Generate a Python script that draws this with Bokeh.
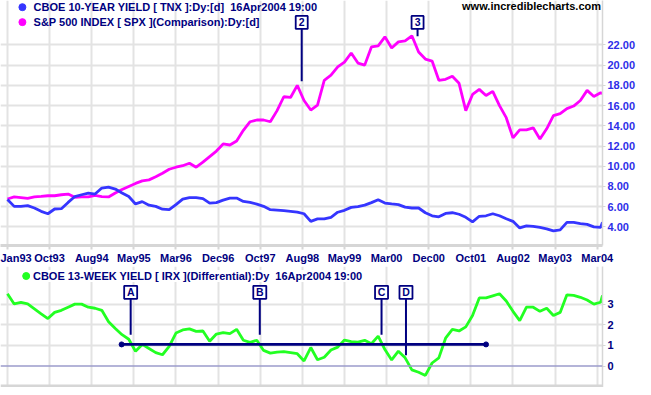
import numpy as np
from bokeh.plotting import figure
from bokeh.layouts import column
from bokeh.models import Range1d, FixedTicker, Span, Label, NumeralTickFormatter, ColumnDataSource
from bokeh.core.properties import value
from bokeh.embed import file_html
from bokeh.resources import INLINE

# ---------------- data ----------------
x_tick_labels = ["Jan93", "Oct93", "Aug94", "May95", "Mar96", "Dec96", "Oct97", "Aug98",
                 "May99", "Mar00", "Dec00", "Oct01", "Aug02", "May03", "Mar04"]
x_tick_days = [0, 200, 400, 600, 800, 1000, 1200, 1400, 1600, 1800, 2000, 2200, 2400, 2600, 2800]
top_ticks = [4, 6, 8, 10, 12, 14, 16, 18, 20, 22]
bottom_ticks = [0, 1, 2, 3]

# trading-day index of each sample (one sample every 32 trading days, last = 16Apr2004)
days = list(np.arange(0, 2817, 32)) + [2825]

tnx = [6.7, 6.03, 6.03, 6.1, 5.87, 5.54, 5.3, 5.77, 5.8, 6.42,
       7.0, 7.18, 7.35, 7.25, 7.84, 7.94, 7.74, 7.35, 7.0, 6.27,
       6.5, 6.15, 6.03, 5.75, 5.7, 6.2, 6.75, 6.9, 6.9, 6.8,
       6.35, 6.4, 6.65, 6.85, 6.85, 6.52, 6.42, 6.25, 6.03, 5.7,
       5.66, 5.6, 5.54, 5.47, 5.3, 4.55, 4.79, 4.79, 4.95, 5.45,
       5.64, 5.93, 6.0, 6.15, 6.4, 6.69, 6.36, 6.27, 6.2, 5.95,
       5.87, 5.87, 5.4, 5.1, 5.0, 5.33, 5.4, 5.25, 4.95, 4.5,
       5.05, 5.1, 5.3, 5.1, 4.8, 4.55, 3.9, 4.1, 4.05, 3.95,
       3.8, 3.6, 3.7, 4.45, 4.45, 4.33, 4.25, 4.0, 3.95, 4.45]

spx = [6.76, 6.96, 6.9, 6.82, 6.96, 7.01, 7.08, 7.08, 7.18, 7.25,
       6.92, 6.96, 6.96, 7.11, 7.0, 6.96, 7.35, 7.7, 8.0, 8.3,
       8.55, 8.65, 8.95, 9.3, 9.7, 9.9, 10.05, 10.3, 9.9, 10.4,
       10.95, 11.5, 12.2, 12.1, 12.5, 13.55, 14.4, 14.57, 14.57, 14.4,
       15.5, 16.87, 16.8, 18.0, 16.5, 15.56, 16.05, 18.5, 19.0, 19.82,
       20.3, 21.2, 20.2, 20.0, 21.8, 21.9, 22.8, 21.7, 22.3, 22.4,
       22.9, 21.3, 20.6, 20.4, 18.5, 18.6, 18.9, 18.2, 15.5, 17.1,
       17.6, 17.0, 17.4, 16.0, 14.8, 12.8, 13.6, 13.6, 13.8, 12.7,
       13.7, 15.0, 15.2, 15.7, 15.95, 16.5, 17.5, 16.9, 17.26, 17.2]

irx = [3.5, 3.01, 3.08, 3.01, 2.77, 2.53, 2.3, 2.6, 2.7, 2.85,
       3.0, 3.0, 2.85, 2.8, 2.7, 2.15, 1.82, 1.52, 1.3, 0.72,
       1.05, 0.85, 0.65, 0.55, 0.95, 1.6, 1.75, 1.8, 1.68, 1.7,
       1.2, 1.55, 1.62, 1.57, 1.78, 1.25, 1.15, 1.25, 0.76, 0.63,
       0.68, 0.7, 0.65, 0.6, 0.25, 0.9, 0.31, 0.43, 0.78, 0.92,
       1.26, 1.18, 1.16, 1.25, 1.08, 1.45, 0.8, 0.3, 0.72, 0.4,
       -0.18, -0.3, -0.45, 0.15, 0.4, 1.35, 1.78, 1.7, 1.9, 2.45,
       3.3, 3.3, 3.4, 3.5, 3.15, 2.65, 2.2, 2.85, 2.85, 2.65,
       2.8, 2.45, 2.6, 3.45, 3.42, 3.33, 3.2, 3.0, 3.09, 3.42]

# annotation markers
top_marks = ["2", "3"]
top_mark_days = [1397, 1947]
top_mark_end = [18.41, 22.85]
top_box_level = 24.22
top_box_bottom = 23.58

bot_marks = ["A", "B", "C", "D"]
bot_mark_days = [585, 1198, 1776, 1892]
bot_mark_end = [1.52, 1.52, 1.52, 0.52]
bot_box_level = 3.57
bot_box_bottom = 3.25
support_days = [542, 2272]
support_level = [1.05, 1.05]

# ---------------- styles ----------------
NAVY = "#000080"
GRID = "#E3E3E3"
AXIS = "#D6D6D6"
FONT = "Liberation Sans"
SP2 = "\u00a0 "  # keeps the double space of the original legends

x_range = Range1d(-33, 2825)


def style_frame(p):
    p.outline_line_color = None
    p.background_fill_color = "white"
    p.border_fill_color = "white"
    p.xgrid.ticker = FixedTicker(ticks=x_tick_days)
    p.xgrid.grid_line_color = GRID
    p.xgrid.grid_line_width = 2
    p.ygrid.grid_line_color = GRID
    p.ygrid.grid_line_width = 2
    ya = p.yaxis[0]
    ya.axis_line_color = AXIS
    ya.axis_line_width = 1.5
    ya.major_tick_line_color = AXIS
    ya.major_tick_in = 0
    ya.major_tick_out = 3
    ya.minor_tick_line_color = None
    ya.major_label_text_font = FONT
    ya.major_label_text_font_style = "bold"
    ya.major_label_text_font_size = "11px"
    ya.major_label_standoff = 2


def legend_label(x, y, text, **kw):
    return Label(x=x, y=y, text=text, text_font=FONT, text_font_style="bold",
                 text_font_size="11px", text_color=NAVY, text_baseline="middle", **kw)


# ---------------- top panel ----------------
p1 = figure(width=643, height=266, output_backend="svg", toolbar_location=None,
            x_range=x_range, y_range=Range1d(2.16, 26.39), y_axis_location="right",
            min_border_left=0, min_border_top=0, min_border_right=41, min_border_bottom=20)
style_frame(p1)
xa = p1.xaxis[0]
xa.ticker = FixedTicker(ticks=x_tick_days)
xa.major_label_overrides = {d: l for d, l in zip(x_tick_days, x_tick_labels)}
xa.axis_line_color = AXIS
xa.axis_line_width = 3
xa.major_tick_line_color = AXIS
xa.major_tick_line_width = 2
xa.major_tick_in = 0
xa.major_tick_out = 4
xa.minor_tick_line_color = None
xa.major_label_text_font = FONT
xa.major_label_text_font_style = "bold"
xa.major_label_text_font_size = "11px"
xa.major_label_text_color = NAVY
xa.major_label_standoff = 2

p1.yaxis[0].ticker = FixedTicker(ticks=top_ticks)
p1.yaxis[0].formatter = NumeralTickFormatter(format="0.00")
p1.yaxis[0].major_label_text_color = "#2E2EE8"
p1.ygrid.ticker = FixedTicker(ticks=top_ticks)

src = ColumnDataSource(dict(day=days, tnx=tnx, spx=spx, irx=irx))
p1.line("day", "spx", source=src, line_color="#FF00FF", line_width=2.8)
p1.line("day", "tnx", source=src, line_color="#3535FF", line_width=2.8)

# markers 2, 3
p1.segment(x0=top_mark_days, y0=[top_box_bottom] * len(top_marks), x1=top_mark_days, y1=top_mark_end,
           line_color=NAVY, line_width=2)
p1.rect(x=top_mark_days, y=[top_box_level] * len(top_marks), width=12, height=13,
        width_units="screen", height_units="screen", fill_color="white", line_color=NAVY, line_width=1.8)
p1.text(x=top_mark_days, y=[top_box_level] * len(top_marks), text=top_marks, text_align="center",
        text_baseline="middle", text_font=value(FONT), text_font_style="bold", text_font_size="10.5px",
        text_color=NAVY)

# legend
p1.scatter(x=[71, 71], y=[25.73, 24.25], size=7, color=["#3535FF", "#FF00FF"], marker="circle")
p1.add_layout(legend_label(124, 25.73, "CBOE 10-YEAR YIELD [ TNX ]:Dy:[d]" + SP2 + "16Apr2004 19:00"))
p1.add_layout(legend_label(124, 24.25, "S&P 500 INDEX [ SPX ](Comparison):Dy:[d]"))
p1.add_layout(Label(x=2818, y=25.8, text="www.incrediblecharts.com", text_align="right",
                    text_font=FONT, text_font_style="bold", text_font_size="11px", text_color="black",
                    text_baseline="middle"))

# ---------------- bottom panel ----------------
p2 = figure(width=643, height=121, output_backend="svg", toolbar_location=None,
            x_range=x_range, y_range=Range1d(-1.035, 4.82), y_axis_location="right",
            x_axis_location=None,
            min_border_left=0, min_border_top=0, min_border_right=41, min_border_bottom=0)
style_frame(p2)
p2.yaxis[0].ticker = FixedTicker(ticks=bottom_ticks)
p2.yaxis[0].major_label_text_color = NAVY
p2.ygrid.ticker = FixedTicker(ticks=[1, 2, 3])
p2.add_layout(Span(location=0, dimension="width", line_color="#9B9BCB", line_width=1.5))
p2.add_layout(Span(location=-0.96, dimension="width", line_color=AXIS, line_width=3))

p2.line("day", "irx", source=src, line_color="#22FF22", line_width=2.8)

p2.line(x=support_days, y=support_level, line_color=NAVY, line_width=2.6)
p2.scatter(x=support_days, y=support_level, size=5, color=NAVY, marker="circle")
p2.segment(x0=bot_mark_days, y0=[bot_box_bottom] * len(bot_marks), x1=bot_mark_days, y1=bot_mark_end,
           line_color=NAVY, line_width=2)
p2.rect(x=bot_mark_days, y=[bot_box_level] * len(bot_marks), width=13, height=13,
        width_units="screen", height_units="screen", fill_color="white", line_color=NAVY, line_width=1.8)
p2.text(x=bot_mark_days, y=[bot_box_level] * len(bot_marks), text=bot_marks, text_align="center",
        text_baseline="middle", text_font=value(FONT), text_font_style="bold", text_font_size="10.5px",
        text_color=NAVY)

p2.scatter(x=[89], y=[4.36], size=7, color="#22FF22", marker="circle")
p2.add_layout(legend_label(121, 4.36, "CBOE 13-WEEK YIELD [ IRX ](Differential):Dy" + SP2 + "16Apr2004 19:00",
                           background_fill_color="white"))

layout = column(p1, p2, spacing=0)
open("out.html", "w").write(file_html(layout, INLINE))
